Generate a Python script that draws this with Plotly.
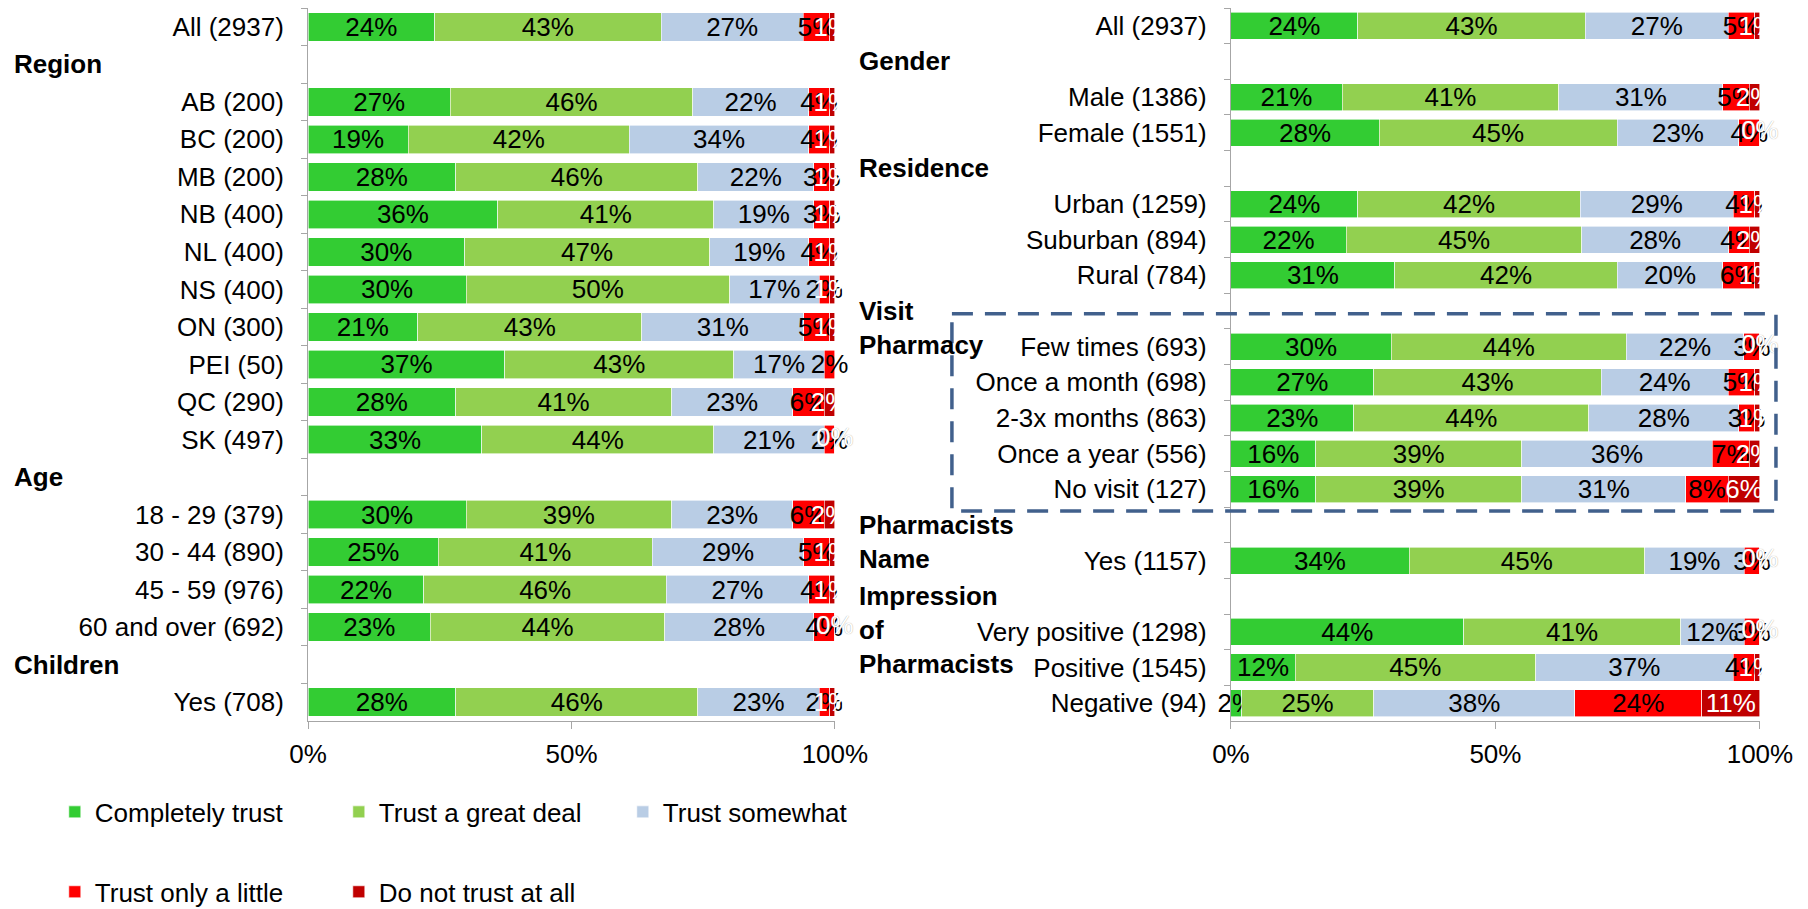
import plotly.graph_objects as go

series = ["Completely trust", "Trust a great deal", "Trust somewhat",
          "Trust only a little", "Do not trust at all"]
colors = ["#33CC33", "#92D050", "#B9CDE5", "#FF0000", "#C00000"]
text_colors = ["black", "black", "black", "black", "white"]

# left panel - blank rows hold the group headers
left_cats = ["All (2937)", " ", "AB (200)", "BC (200)", "MB (200)", "NB (400)",
             "NL (400)", "NS (400)", "ON (300)", "PEI (50)", "QC (290)", "SK (497)",
             "  ", "18 - 29 (379)", "30 - 44 (890)", "45 - 59 (976)",
             "60 and over (692)", "   ", "Yes (708)"]
left_completely = [24, None, 27, 19, 28, 36, 30, 30, 21, 37, 28, 33, None, 30, 25, 22, 23, None, 28]
left_great = [43, None, 46, 42, 46, 41, 47, 50, 43, 43, 41, 44, None, 39, 41, 46, 44, None, 46]
left_somewhat = [27, None, 22, 34, 22, 19, 19, 17, 31, 17, 23, 21, None, 23, 29, 27, 28, None, 23]
left_little = [5, None, 4, 4, 3, 3, 4, 2, 5, 2, 6, 2, None, 6, 5, 4, 4, None, 2]
left_not = [1, None, 1, 1, 1, 1, 1, 1, 1, None, 2, 0, None, 2, 1, 1, 0, None, 1]
left_groups = {"Region": 1, "Age": 12, "Children": 17}

# right panel
right_cats = ["All (2937)", " ", "Male (1386)", "Female (1551)", "  ", "Urban (1259)",
              "Suburban (894)", "Rural (784)", "   ", "Few times (693)",
              "Once a month (698)", "2-3x months (863)", "Once a year (556)",
              "No visit (127)", "    ", "Yes (1157)", "     ",
              "Very positive (1298)", "Positive (1545)", "Negative (94)"]
right_completely = [24, None, 21, 28, None, 24, 22, 31, None, 30, 27, 23, 16, 16, None, 34, None, 44, 12, 2]
right_great = [43, None, 41, 45, None, 42, 45, 42, None, 44, 43, 44, 39, 39, None, 45, None, 41, 45, 25]
right_somewhat = [27, None, 31, 23, None, 29, 28, 20, None, 22, 24, 28, 36, 31, None, 19, None, 12, 37, 38]
right_little = [5, None, 5, 4, None, 4, 4, 6, None, 3, 5, 3, 7, 8, None, 3, None, 3, 4, 24]
right_not = [1, None, 2, 0, None, 1, 2, 1, None, 0, 1, 1, 2, 6, None, 0, None, 0, 1, 11]
right_groups = {"Gender": 1, "Residence": 4, "Visit<br>Pharmacy": 8,
                "Pharmacists<br>Name": 14, "Impression<br>of<br>Pharmacists": 16}

x_ticks = [0, 50, 100]
x_ticktext = ["0%", "50%", "100%"]

FONT = "Liberation Sans, Arial, sans-serif"
FS = 26

fig = go.Figure()


def add_panel(cats, values, xa, ya, legend_on):
    for i, (name, vals) in enumerate(zip(series, values)):
        txt = [f"{v}%" if v is not None else "" for v in vals]
        fig.add_trace(go.Bar(
            y=cats, x=vals, name=name, orientation="h",
            marker=dict(color=colors[i], line=dict(color="white", width=0.6)),
            text=txt, textposition="inside", textangle=0, constraintext="none",
            insidetextanchor="middle", cliponaxis=False,
            textfont=dict(color=text_colors[i], size=FS, family=FONT),
            xaxis=xa, yaxis=ya, showlegend=legend_on,
            legend="legend" if i < 3 else "legend2",
        ))
    # zero-size "do not trust" segments still get their 0% label at the end of the stack
    zero_rows = [c for c, v in zip(cats, values[-1]) if v == 0]
    fig.add_trace(go.Scatter(
        y=zero_rows, x=[100] * len(zero_rows), mode="text",
        text=["0%"] * len(zero_rows), textposition="middle center",
        textfont=dict(color="white", size=FS, family=FONT, shadow="0px 0px 1px #9A9A9A"),
        cliponaxis=False, xaxis=xa, yaxis=ya, showlegend=False, hoverinfo="skip",
    ))


add_panel(left_cats, [left_completely, left_great, left_somewhat, left_little, left_not],
          "x", "y", True)
add_panel(right_cats, [right_completely, right_great, right_somewhat, right_little, right_not],
          "x2", "y2", False)

# range a hair past 100 so bar labels ending at 100.00000001 are not hidden
xaxis_common = dict(range=[0, 100.001], tickmode="array", tickvals=x_ticks, ticktext=x_ticktext,
                    showgrid=False, zeroline=False, showline=True, linecolor="#A6A6A6",
                    ticks="outside", ticklen=7, tickcolor="#A6A6A6", automargin=False,
                    ticklabelstandoff=3,
                    tickfont=dict(size=FS, color="black", family=FONT), fixedrange=True)
yaxis_common = dict(type="category", autorange="reversed", showgrid=False,
                    showline=True, linecolor="#A6A6A6", ticks="outside", ticklen=6,
                    tickcolor="#A6A6A6", tickson="boundaries", ticklabelstandoff=18,
                    tickfont=dict(size=FS, color="black", family=FONT), fixedrange=True,
                    automargin=False, domain=[0.2087, 1.0])

legend_common = dict(orientation="h", x=0.026, xanchor="left", yanchor="middle",
                     entrywidth=239, entrywidthmode="pixels", font=dict(size=FS),
                     bgcolor="rgba(0,0,0,0)", traceorder="normal")

# the page adds an 8px body margin, so the figure is sized to fit inside the window
fig.update_layout(
    width=1800, height=901,
    margin=dict(l=0, r=0, t=0, b=0, autoexpand=False),
    paper_bgcolor="white", plot_bgcolor="white",
    barmode="stack", barnorm="percent", bargap=0.24,
    font=dict(family=FONT, size=FS, color="black"),
    xaxis=dict(domain=[0.1667, 0.4594], anchor="y", **xaxis_common),
    yaxis=dict(anchor="x", **yaxis_common),
    xaxis2=dict(domain=[0.6794, 0.9733], anchor="y2", **xaxis_common),
    yaxis2=dict(anchor="x2", **yaxis_common),
    legend=dict(y=0.1077, **legend_common),
    legend2=dict(y=0.019, **legend_common),
)

# group headers
for label, idx in left_groups.items():
    fig.add_annotation(text=f"<b>{label}</b>", x=0.002, xref="paper", xanchor="left",
                       y=idx, yref="y", yanchor="top", yshift=17, align="left",
                       showarrow=False, font=dict(size=FS, family=FONT))
for label, idx in right_groups.items():
    fig.add_annotation(text=f"<b>{label}</b>", x=0.4719, xref="paper", xanchor="left",
                       y=idx, yref="y2", yanchor="top", yshift=17, align="left",
                       showarrow=False, font=dict(size=FS, family=FONT))

# dashed box around the pharmacy-visit rows
fig.add_shape(type="rect", xref="paper", yref="y2", x0=0.5244, x1=0.9822,
              y0=8.08, y1=13.61, line=dict(color="#41608C", width=3.5, dash="21px,12px"))

fig.write_html("out.html")
